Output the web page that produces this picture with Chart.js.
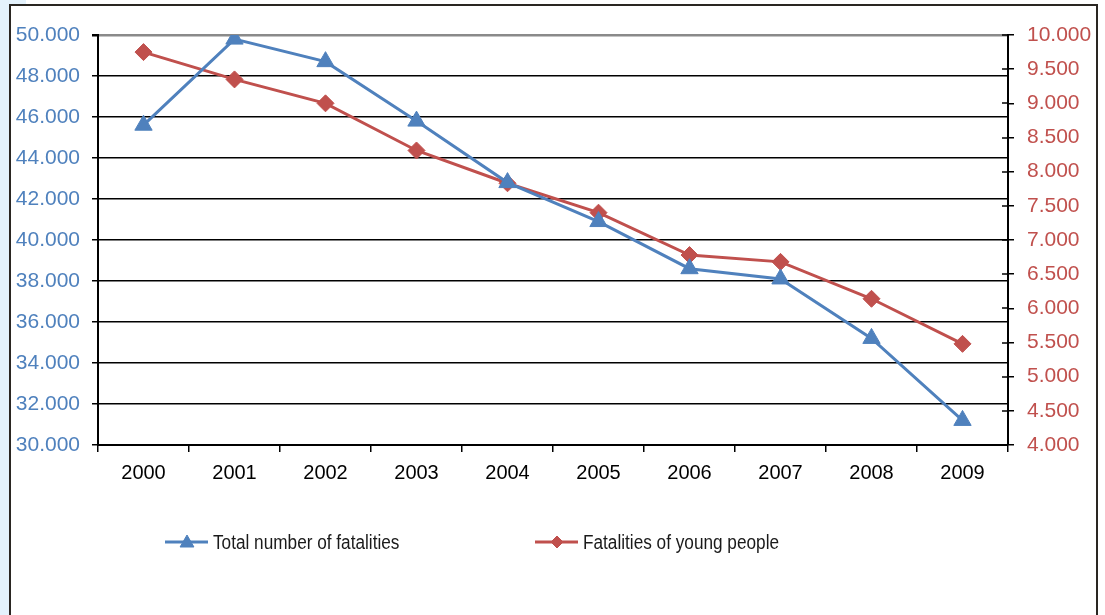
<!DOCTYPE html>
<html>
<head>
<meta charset="utf-8">
<script src="https://cdn.jsdelivr.net/npm/chart.js@4.4.1/dist/chart.umd.min.js"></script>
<style>
  html, body { margin: 0; padding: 0; background: #ffffff; }
  #wrap { position: relative; width: 1105px; height: 615px; overflow: hidden; }
  #strip { position: absolute; left: 0; top: 0; width: 9px; height: 615px; background: #e4f2fc; }
  #corner { position: absolute; left: 0; top: 0; width: 26px; height: 4px; background: #e4f2fc; }
  #frame { position: absolute; left: 9px; top: 4px; width: 1085px; height: 640px;
           border: 2px solid #2a2622; border-bottom: none; background: #ffffff; }
  #c { position: absolute; left: 0; top: 0; }
</style>
</head>
<body>
<div id="wrap">
  <div id="strip"></div>
  <div id="corner"></div>
  <div id="frame"></div>
  <canvas id="c" width="1105" height="615"></canvas>
</div>
<script>
// Years on the category axis
const years = ['2000', '2001', '2002', '2003', '2004', '2005', '2006', '2007', '2008', '2009'];

// Road fatalities, all ages (left axis)
const totalFatalities = [45600, 49800, 48700, 45800, 42800, 40900, 38600, 38100, 35200, 31200];

// Road fatalities among young people (right axis)
const youngFatalities = [9750, 9350, 9000, 8310, 7830, 7400, 6780, 6680, 6140, 5480];

// Series names
const seriesNames = ['Total number of fatalities', 'Fatalities of young people'];

// Axis ranges
const leftAxis = { min: 30000, max: 50000, step: 2000 };
const rightAxis = { min: 4000, max: 10000, step: 500 };

const BLUE = '#4f81bd';
const RED = '#c0504d';
const FONT = "'Liberation Sans', Arial, sans-serif";

// European style thousands: 50000 -> "50.000"
const fmt = v => (v / 1000).toFixed(3);

// Inner half of the crossing tick marks on the right axis
const crossTicks = {
  id: 'crossTicks',
  afterDraw(chart) {
    const s = chart.scales.y1;
    const ctx = chart.ctx;
    ctx.save();
    ctx.strokeStyle = '#000';
    ctx.lineWidth = 1.5;
    s.ticks.forEach(t => {
      const y = Math.round(s.getPixelForValue(t.value));
      ctx.beginPath();
      ctx.moveTo(s.left - 6, y);
      ctx.lineTo(s.left, y);
      ctx.stroke();
    });
    ctx.restore();
  }
};

// Legend below the plot: line with centred marker, then the series name in a condensed face
const lineLegend = {
  id: 'lineLegend',
  afterDraw(chart) {
    const ctx = chart.ctx;
    const startX = [165, 535];
    const y = 542;
    const squeeze = 0.86;
    ctx.save();
    chart.data.datasets.forEach((ds, i) => {
      const x0 = startX[i];
      ctx.strokeStyle = ds.borderColor;
      ctx.lineWidth = 3;
      ctx.beginPath();
      ctx.moveTo(x0, y);
      ctx.lineTo(x0 + 43, y);
      ctx.stroke();
      ctx.fillStyle = ds.pointBackgroundColor;
      ctx.strokeStyle = ds.pointBackgroundColor;
      ctx.lineWidth = 1;
      const tri = ds.pointStyle === 'triangle';
      Chart.helpers.drawPoint(ctx, {
        pointStyle: ds.pointStyle,
        radius: tri ? 8 : 6,
        rotation: 0,
        borderWidth: 1
      }, x0 + 22, y + (tri ? 1 : 0));
      ctx.save();
      ctx.translate(x0 + 48, y + 1);
      ctx.scale(squeeze, 1);
      ctx.fillStyle = '#1a1a1a';
      ctx.font = '20px ' + FONT;
      ctx.textBaseline = 'middle';
      ctx.textAlign = 'left';
      ctx.fillText(ds.label, 0, 0);
      ctx.restore();
    });
    ctx.restore();
  }
};

new Chart(document.getElementById('c'), {
  type: 'line',
  data: {
    labels: years,
    datasets: [
      {
        label: seriesNames[0],
        data: totalFatalities,
        yAxisID: 'y',
        borderColor: BLUE,
        backgroundColor: BLUE,
        pointBackgroundColor: BLUE,
        pointBorderColor: BLUE,
        borderWidth: 3,
        pointStyle: 'triangle',
        pointRadius: 10,
        pointBorderWidth: 1,
        tension: 0
      },
      {
        label: seriesNames[1],
        data: youngFatalities,
        yAxisID: 'y1',
        borderColor: RED,
        backgroundColor: RED,
        pointBackgroundColor: RED,
        pointBorderColor: RED,
        borderWidth: 3,
        pointStyle: 'rectRot',
        pointRadius: 8.5,
        pointBorderWidth: 1,
        tension: 0
      }
    ]
  },
  options: {
    responsive: false,
    animation: false,
    layout: { padding: { top: 35, left: 0, right: 0, bottom: 0 } },
    plugins: {
      legend: { display: false },
      tooltip: { enabled: false }
    },
    scales: {
      x: {
        type: 'category',
        offset: true,
        grid: {
          offset: true,
          drawOnChartArea: false,
          drawTicks: true,
          tickLength: 7,
          color: '#000',
          lineWidth: 1.5
        },
        border: { display: true, color: '#000', width: 2 },
        ticks: { color: '#000', font: { family: FONT, size: 20 }, padding: 9, maxRotation: 0 },
        afterFit(s) { s.height = 170; }
      },
      y: {
        position: 'left',
        min: leftAxis.min,
        max: leftAxis.max,
        ticks: {
          stepSize: leftAxis.step,
          color: BLUE,
          font: { family: FONT, size: 21 },
          padding: 12,
          callback: v => fmt(v)
        },
        grid: {
          color: c => (c.tick && c.tick.value === leftAxis.max) ? '#8a8a8a' : '#000',
          tickColor: '#000',
          lineWidth: c => (c.tick && c.tick.value === leftAxis.max) ? 2.5 : 1.5,
          tickLength: 6
        },
        border: { display: true, color: '#000', width: 2 },
        afterFit(s) { s.width = 98; }
      },
      y1: {
        position: 'right',
        min: rightAxis.min,
        max: rightAxis.max,
        ticks: {
          stepSize: rightAxis.step,
          color: RED,
          font: { family: FONT, size: 21 },
          padding: 13,
          callback: v => fmt(v)
        },
        grid: {
          drawOnChartArea: false,
          tickColor: '#000',
          lineWidth: 1.5,
          tickLength: 6
        },
        border: { display: true, color: '#000', width: 2 },
        afterFit(s) { s.width = 97; }
      }
    }
  },
  plugins: [crossTicks, lineLegend]
});
</script>
</body>
</html>
